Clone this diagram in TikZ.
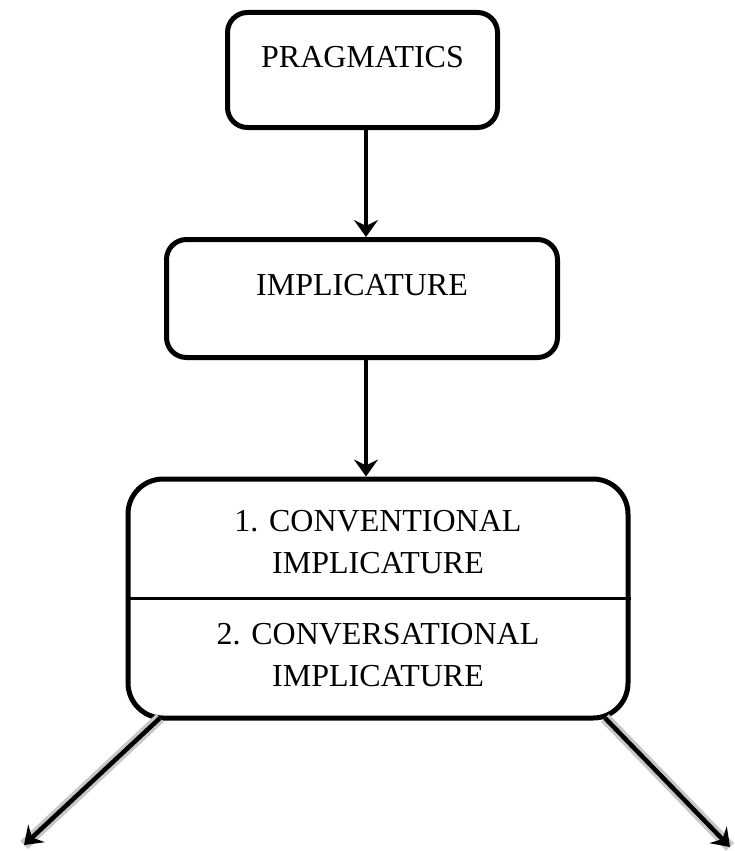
\documentclass[tikz,border=0pt]{standalone}
\usepackage{fontspec}
\setmainfont{Liberation Serif}
\usetikzlibrary{arrows.meta}
\tikzset{
  box/.style={draw=black, line width=5pt, rounded corners=20pt, inner sep=0pt,
    font=\fontsize{32}{42}\selectfont, text height=22pt},
  txt/.style={inner sep=0pt, align=center, font=\fontsize{32}{42}\selectfont},
  arr/.style={draw=black, line width=3.5pt,
    -{Stealth[length=17pt,width=24pt,inset=6pt]}},
  diag/.style={arr, line width=4.5pt, preaction={draw=black!22, line width=11pt, -}}
}
\begin{document}
\begin{tikzpicture}[x=1pt,y=-1pt]
\useasboundingbox (0,0) rectangle (734,851);
\node[box, minimum width=270pt, minimum height=115pt, text depth=28pt]
  (prag) at (362.5,70) {PRAGMATICS};
\node[box, minimum width=391pt, minimum height=118pt, text depth=29pt]
  (impl) at (362,298.5) {IMPLICATURE};
\node[box, rounded corners=35pt, minimum width=500pt, minimum height=239pt]
  (types) at (378,598.5) {};
\node[txt] (conv) at (378,542) {1. CONVENTIONAL\\IMPLICATURE};
\node[txt] (convs) at (378,655) {2. CONVERSATIONAL\\IMPLICATURE};
\draw[line width=3pt] (types.west) -- (types.east);
\draw[arr] ([xshift=3.5pt]prag.south) -- ([xshift=4pt]impl.north);
\draw[arr] ([xshift=4pt]impl.south) -- ([xshift=-12pt]types.north);
\coordinate (leftend) at (24,845);
\coordinate (rightend) at (730,847);
\draw[diag] ([xshift=-218pt,yshift=2.5pt]types.south) -- (leftend);
\draw[diag] ([xshift=227pt,yshift=2.5pt]types.south) -- (rightend);
\end{tikzpicture}
\end{document}
